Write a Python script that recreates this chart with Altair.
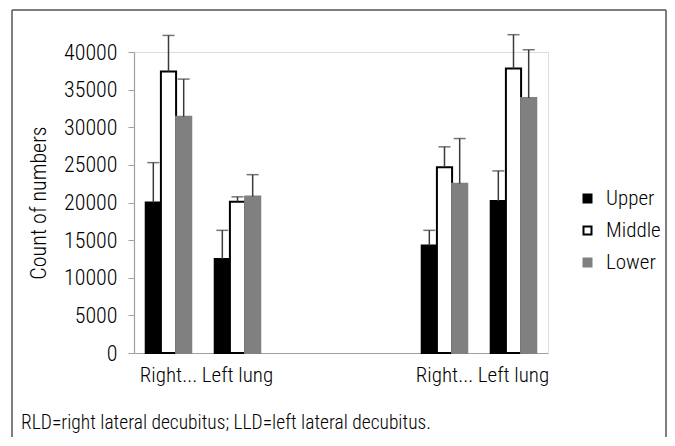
import altair as alt
import pandas as pd

# ---- data ----
slots = ["RLD Right lung", "RLD Left lung", "gap1", "gap2", "LLD Right lung", "LLD Left lung"]
groups = ["RLD Right lung", "RLD Left lung", "LLD Right lung", "LLD Left lung"]
series = ["Upper", "Middle", "Lower"]
upper = [20000, 12500, 14300, 20200]
middle = [37400, 20100, 24700, 37800]
lower = [31400, 20800, 22500, 33900]
upper_err = [5300, 3800, 2000, 4000]
middle_err = [4800, 650, 2700, 4500]
lower_err = [5000, 2900, 6000, 6400]
y_ticks = [0, 5000, 10000, 15000, 20000, 25000, 30000, 35000, 40000]
label_right = "Right..."
label_left = "Left lung"
y_title = "Count of numbers"
footnote = "RLD=right lateral decubitus; LLD=left lateral decubitus."

rows = []
for i, g in enumerate(groups):
    for s, vals, errs in zip(series, [upper, middle, lower], [upper_err, middle_err, lower_err]):
        rows.append({"group": g, "series": s, "value": vals[i], "top": vals[i] + errs[i]})
df = pd.DataFrame(rows)

FONT = "'Liberation Sans Narrow', 'Arial Narrow', 'Roboto Condensed', Roboto, sans-serif"
TXT = "#000000"
W = 300

label_expr = (
    f"indexof(datum.value, 'Right') >= 0 ? '{label_right}' : "
    f"(indexof(datum.value, 'Left') >= 0 ? '{label_left}' : '')"
)

x_enc = alt.X(
    "group:N",
    scale=alt.Scale(domain=slots, paddingInner=0.34, paddingOuter=0.17),
    axis=alt.Axis(
        title=None, labelExpr=label_expr, labelAngle=0, ticks=False,
        domainColor="#a0a0a0", domainWidth=1.2, labelFontSize=21, labelPadding=11,
        labelColor=TXT, labelOverlap=False, labelFont=FONT, labelFontWeight=W,
    ),
)
xo_enc = alt.XOffset("series:N", scale=alt.Scale(domain=series, paddingInner=0, paddingOuter=0))
y_scale = alt.Scale(domain=[0, 40000], nice=False)
y_axis = alt.Axis(
    values=y_ticks, tickCount=9, format="d", labelOverlap=False, grid=False,
    domainColor="#a0a0a0", domainWidth=1.2,
    tickColor="#a0a0a0", tickSize=6, labelFontSize=22, labelPadding=11,
    labelColor=TXT, labelFont=FONT, labelFontWeight=W, titleFont=FONT, titleFontSize=22,
    titleFontWeight=W, titleColor=TXT, titlePadding=13,
)

legend = alt.Legend(
    title=None, orient="none", legendX=443, legendY=136, symbolType="square",
    symbolSize=64, symbolStrokeWidth=2, labelFontSize=21, labelFont=FONT,
    labelFontWeight=W, labelColor=TXT, labelOffset=8, rowPadding=10,
)

bars = alt.Chart(df).mark_bar(strokeWidth=2).encode(
    x=x_enc,
    xOffset=xo_enc,
    y=alt.Y("value:Q", scale=y_scale, title=y_title, axis=y_axis),
    fill=alt.Fill("series:N", scale=alt.Scale(domain=series, range=["#000000", "#ffffff", "#808080"]), legend=legend),
    stroke=alt.Stroke("series:N", scale=alt.Scale(domain=series, range=["#000000", "#000000", "#808080"]), legend=legend),
)

err_lines = alt.Chart(df).mark_rule(color="#3a3a3a", strokeWidth=1.5).encode(
    x=x_enc, xOffset=xo_enc,
    y=alt.Y("value:Q", scale=y_scale, title=y_title, axis=y_axis),
    y2="top:Q",
)
err_caps = alt.Chart(df).mark_tick(color="#3a3a3a", thickness=1.5, size=12).encode(
    x=x_enc, xOffset=xo_enc,
    y=alt.Y("top:Q", scale=y_scale, title=y_title, axis=y_axis),
)

one = pd.DataFrame({"k": [0]})
frame_color = "#555555"
frame_left = alt.Chart(one).mark_rule(color=frame_color, strokeWidth=1.5).encode(
    x=alt.value(-122), y=alt.value(-42), y2=alt.value(420))
frame_top = alt.Chart(one).mark_rule(color=frame_color, strokeWidth=1.5).encode(
    x=alt.value(-122), x2=alt.value(532), y=alt.value(-42))
frame_right = alt.Chart(one).mark_rule(color=frame_color, strokeWidth=1.5).encode(
    x=alt.value(532), y=alt.value(-42), y2=alt.value(420))
note = alt.Chart(one).mark_text(
    align="left", baseline="alphabetic", fontSize=19.5, font=FONT, fontWeight=W, color=TXT
).encode(x=alt.value(-113), y=alt.value(377), text=alt.value(footnote))

chart = alt.layer(
    frame_left, frame_top, frame_right, bars, err_lines, err_caps, note
).properties(
    width=414, height=301,
    autosize=alt.AutoSizeParams(type="none"),
    padding={"left": 126, "top": 44, "right": 119, "bottom": 84},
).configure_view(stroke=None).configure(background="white")

chart.save("out.html", embed_options={"renderer": "svg", "actions": False})
